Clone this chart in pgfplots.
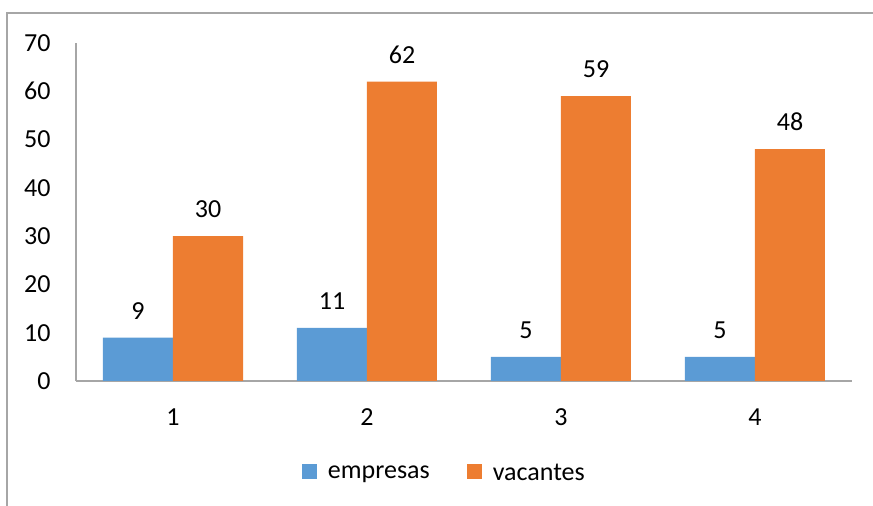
\documentclass[border=0pt]{standalone}
\usepackage{pgfplots}
\pgfplotsset{compat=1.18}
\usepackage{fontspec}
\setmainfont{Carlito}
\definecolor{cblue}{HTML}{5B9BD5}
\definecolor{corange}{HTML}{ED7D31}
\definecolor{cgrid}{HTML}{A6A6A6}
\begin{document}
\begin{tikzpicture}
\useasboundingbox (0,0) rectangle (436.5pt,253pt);
\draw[cgrid, line width=0.6pt] (3.5pt,0pt) -- (3.5pt,246.5pt) -- (440pt,246.5pt);
\begin{axis}[
  at={(38pt,62.5pt)}, anchor=south west,
  scale only axis, width=388pt, height=169pt,
  ybar=0pt, bar width=35pt,
  xmin=0.5, xmax=4.5, ymin=0, ymax=70,
  xtick={1,2,3,4}, ytick={0,10,...,70},
  axis x line*=bottom, axis y line*=left,
  axis line style={-, cgrid, line width=0.8pt},
  major tick length=0pt,
  font=\fontsize{13}{15}\selectfont,
  /pgf/number format/assume math mode=true,
  xticklabel style={anchor=north, inner sep=0pt, yshift=-13.5pt},
  yticklabel style={anchor=east, inner sep=0pt, xshift=-12.5pt},
  nodes near coords,
  every node near coord/.append style={anchor=south, inner sep=0pt, yshift=9pt, font=\fontsize{13}{15}\selectfont, black},
  legend style={at={(0.476,-0.275)}, anchor=center, draw=none, inner sep=0pt, legend columns=2, font=\fontsize{13}{15}\selectfont,
    /tikz/every odd column/.append style={column sep=3.5pt},
    /tikz/every even column/.append style={column sep=16.5pt}},
  legend image code/.code={\fill[#1] (0pt,-2.5pt) rectangle (7.5pt,5pt);},
  legend cell align=left,
]
\addplot[fill=cblue, draw=none] coordinates {(1,9) (2,11) (3,5) (4,5)};
\addplot[fill=corange, draw=none] coordinates {(1,30) (2,62) (3,59) (4,48)};
\legend{empresas, vacantes}
\end{axis}
\end{tikzpicture}
\end{document}
